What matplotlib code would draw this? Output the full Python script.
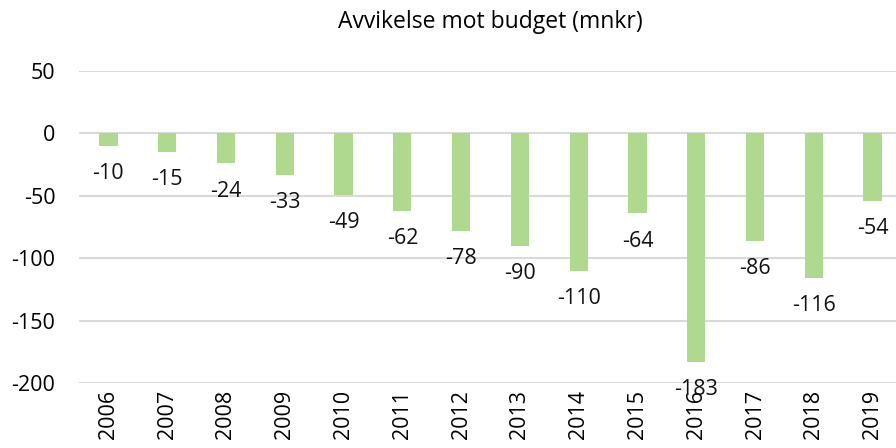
import matplotlib
matplotlib.use('Agg')
import matplotlib.pyplot as plt

years = ['2006', '2007', '2008', '2009', '2010', '2011', '2012',
         '2013', '2014', '2015', '2016', '2017', '2018', '2019']
deviation = [-10, -15, -24, -33, -49, -62, -78, -90, -110, -64, -183, -86, -116, -54]
y_ticks = [-200, -150, -100, -50, 0, 50]

plt.rcParams['font.family'] = ['Open Sans', 'DejaVu Sans']
FS = 15.5

fig = plt.figure(figsize=(8.96, 4.48), dpi=100)
# axes run slightly past the right edge, like the cropped original
ax = fig.add_axes([79 / 896, 1 - 383 / 448, (902 - 79) / 896, (383 - 71) / 448])

x = list(range(len(years)))
ax.bar(x, deviation, width=0.31, color='#aed98e', zorder=3)
for xi, v in zip(x, deviation):
    ax.annotate(str(v), (xi, v), xytext=(0, -20), textcoords='offset points',
                ha='center', va='center', fontsize=FS, color='#111111', zorder=4)

ax.set_xlim(-0.5, len(years) - 0.5)
ax.set_ylim(-200, 50)
ax.set_yticks(y_ticks)
ax.set_yticklabels([str(t) for t in y_ticks], fontsize=FS)
ax.set_xticks(x)
ax.set_xticklabels(years, rotation=90, fontsize=FS)
ax.tick_params(length=0)
ax.tick_params(axis='y', pad=17)
ax.tick_params(axis='x', pad=5)
ax.yaxis.grid(True, color='#d9d9d9', linewidth=1.5, zorder=0)
for s in ax.spines.values():
    s.set_visible(False)

fig.text((79 + 902) / 2 / 896, 1 - 22 / 448, 'Avvikelse mot budget (mnkr)',
         ha='center', va='center', fontsize=16.5)

fig.savefig('out.png', dpi=100)
